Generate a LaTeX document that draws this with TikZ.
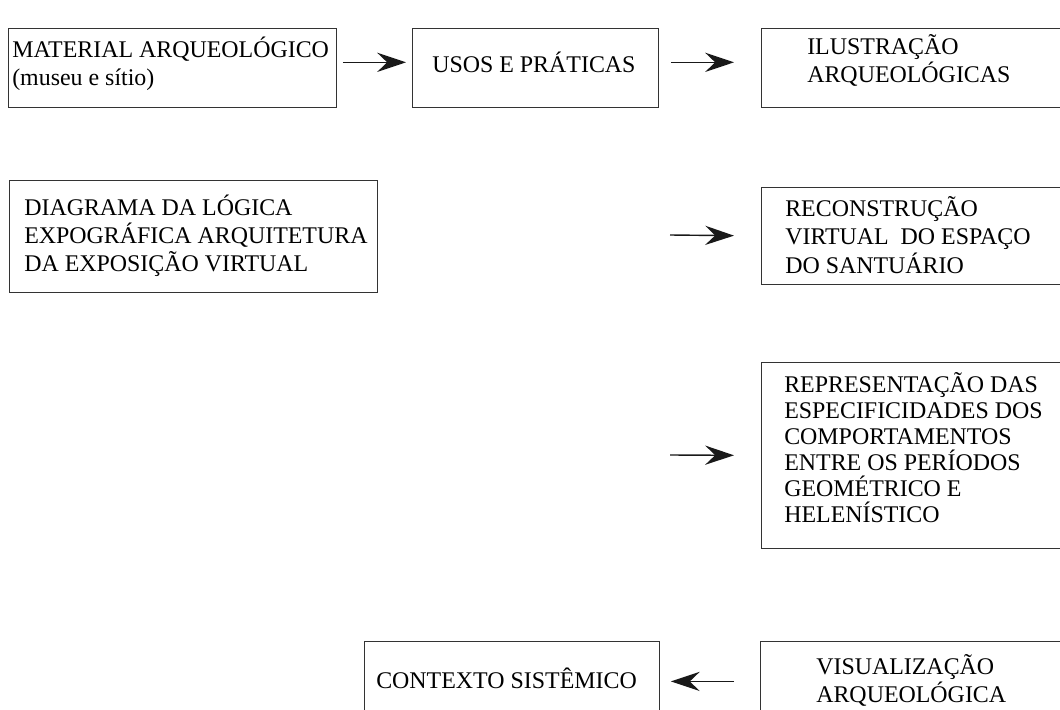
\documentclass[tikz,border=0pt]{standalone}
\usepackage{fontspec}
\setmainfont{Liberation Serif}
\usepackage{tikz}
\usetikzlibrary{arrows.meta}

\tikzset{
    box/.style={draw=black!80, line width=0.6pt, anchor=north west, inner sep=0pt},
    txt/.style={anchor=west, align=left, inner sep=0pt, font=\fontsize{17}{20}\selectfont},
    arr/.style={-{Stealth[length=0.72cm, width=0.48cm, inset=0.25cm]}, line width=1pt, black!90},
}

\begin{document}
\begin{tikzpicture}[x=0.025cm, y=-0.025cm]
        \useasboundingbox (0, 0) rectangle (1060, 710);
        \clip (0, 0) rectangle (1060, 710);
        \node (1) at (8, 28) [box, minimum width=8.2cm, minimum height=1.975cm] {};
        \node (2) at (412, 28) [box, minimum width=6.15cm, minimum height=1.975cm] {};
        \node (3) at (761, 28) [box, minimum width=10cm, minimum height=1.975cm] {};
        \node (4) at (9, 180) [box, minimum width=9.2cm, minimum height=2.8cm] {};
        \node (5) at (761, 187) [box, minimum width=10cm, minimum height=2.425cm] {};
        \node (6) at (761, 362) [box, minimum width=10cm, minimum height=4.65cm] {};
        \node (7) at (364, 641) [box, minimum width=7.375cm, minimum height=2cm] {};
        \node (8) at (760, 641) [box, minimum width=10cm, minimum height=2cm] {};
        \node (1t) at (12, 64) [txt] {MATERIAL ARQUEOLÓGICO\\(museu e sítio)};
        \node (2t) at (432, 62) [txt] {USOS E PRÁTICAS};
        \node (3t) at (807, 60) [txt] {ILUSTRAÇÃO\\ARQUEOLÓGICAS};
        \node (4t) at (24, 236) [txt] {DIAGRAMA DA LÓGICA\\EXPOGRÁFICA ARQUITETURA\\DA EXPOSIÇÃO VIRTUAL};
        \node (5t) at (785, 235) [txt] {RECONSTRUÇÃO\\VIRTUAL\ \ DO ESPAÇO\\DO SANTUÁRIO};
        \node (6t) at (784, 448) [txt, font=\fontsize{17}{18.5}\selectfont] {REPRESENTAÇÃO DAS\\ESPECIFICIDADES DOS\\COMPORTAMENTOS\\ENTRE OS PERÍODOS\\GEOMÉTRICO E\\HELENÍSTICO};
        \node (7t) at (376, 678) [txt] {CONTEXTO SISTÊMICO};
        \node (8t) at (816, 680) [txt] {VISUALIZAÇÃO\\ARQUEOLÓGICA};
        \coordinate (c5) at (670, 235);
        \coordinate (c6) at (670, 455);
        \draw [arr, shorten <=0.15cm, shorten >=0.15cm] ([yshift=0.14cm]1.east) -- ([yshift=0.14cm]2.west);
        \draw [arr, shorten <=0.3cm, shorten >=0.675cm] ([yshift=0.14cm]2.east) -- ([yshift=0.14cm]3.west);
        \draw [arr, shorten >=0.675cm] (c5) -- (5.west);
        \draw [arr, shorten >=0.675cm] (c6) -- (6.west);
        \draw [arr, shorten <=0.65cm, shorten >=0.275cm] (8.west) -- (7.east);
    \end{tikzpicture}
\end{document}
